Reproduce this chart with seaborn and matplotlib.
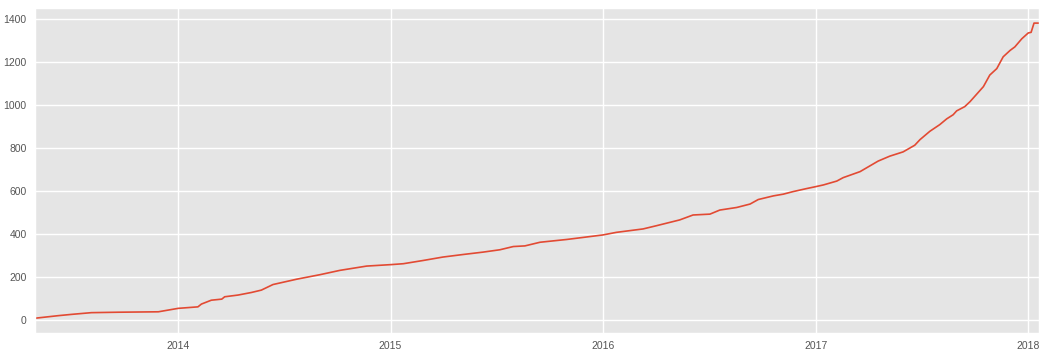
import matplotlib
matplotlib.use("Agg")
import matplotlib.pyplot as plt
import matplotlib.dates as mdates
import pandas as pd
import seaborn as sns

dates = [
    "2013-04-30", "2013-06-09", "2013-07-02", "2013-08-05", "2013-09-20",
    "2013-11-28", "2013-12-15", "2014-01-01", "2014-02-04", "2014-02-10",
    "2014-02-27", "2014-03-17", "2014-03-22", "2014-04-14", "2014-05-07",
    "2014-05-24", "2014-06-13", "2014-07-24", "2014-09-02", "2014-10-06",
    "2014-11-21", "2015-01-03", "2015-01-23", "2015-02-26", "2015-04-01",
    "2015-05-06", "2015-06-09", "2015-07-08", "2015-07-31", "2015-08-20",
    "2015-09-15", "2015-10-31", "2016-01-01", "2016-01-24", "2016-03-10",
    "2016-04-02", "2016-05-12", "2016-06-04", "2016-07-03", "2016-07-20",
    "2016-08-18", "2016-09-10", "2016-09-24", "2016-10-20", "2016-11-06",
    "2016-11-23", "2016-12-16", "2016-12-30", "2017-01-14", "2017-02-06",
    "2017-02-17", "2017-03-18", "2017-04-18", "2017-05-08", "2017-05-31",
    "2017-06-20", "2017-06-29", "2017-07-16", "2017-08-02", "2017-08-14",
    "2017-08-25", "2017-08-31", "2017-09-14", "2017-09-23", "2017-10-16",
    "2017-10-27", "2017-11-08", "2017-11-19", "2017-12-01", "2017-12-09",
    "2017-12-21", "2018-01-01", "2018-01-06", "2018-01-11", "2018-01-20",
]
counts = [
    8, 20, 26, 34, 36,
    38, 46, 54, 61, 74,
    92, 97, 108, 116, 128,
    139, 165, 190, 211, 231,
    251, 258, 262, 277, 293,
    305, 316, 327, 342, 345,
    362, 375, 396, 408, 424,
    439, 466, 489, 493, 512,
    524, 540, 561, 578, 586,
    598, 612, 620, 629, 647,
    663, 691, 740, 763, 783,
    814, 840, 879, 910, 937,
    956, 974, 994, 1017, 1087,
    1141, 1171, 1226, 1256, 1272,
    1310, 1337, 1340, 1383, 1383,
]
y_ticks = [0, 200, 400, 600, 800, 1000, 1200, 1400]

plt.style.use("ggplot")
plt.rcParams["font.family"] = ["Liberation Sans", "DejaVu Sans"]

df = pd.DataFrame({"date": pd.to_datetime(dates), "count": counts})

fig = plt.figure(figsize=(10.45, 3.55), dpi=100)
ax = fig.add_axes([0.0335, 0.062, 0.961, 0.9145])
sns.lineplot(data=df, x="date", y="count", ax=ax, color="#E24A33", linewidth=1.2)

ax.set_xlim(df["date"].min(), df["date"].max())
ax.set_yticks(y_ticks)
ax.xaxis.set_major_locator(mdates.YearLocator())
ax.xaxis.set_major_formatter(mdates.DateFormatter("%Y"))
ax.set_xlabel("")
ax.set_ylabel("")
ax.tick_params(axis="both", length=0, pad=6, labelsize=7.5, colors="#555555")
ax.grid(True, color="white", linewidth=1.0)

fig.savefig("out.png", dpi=100)
